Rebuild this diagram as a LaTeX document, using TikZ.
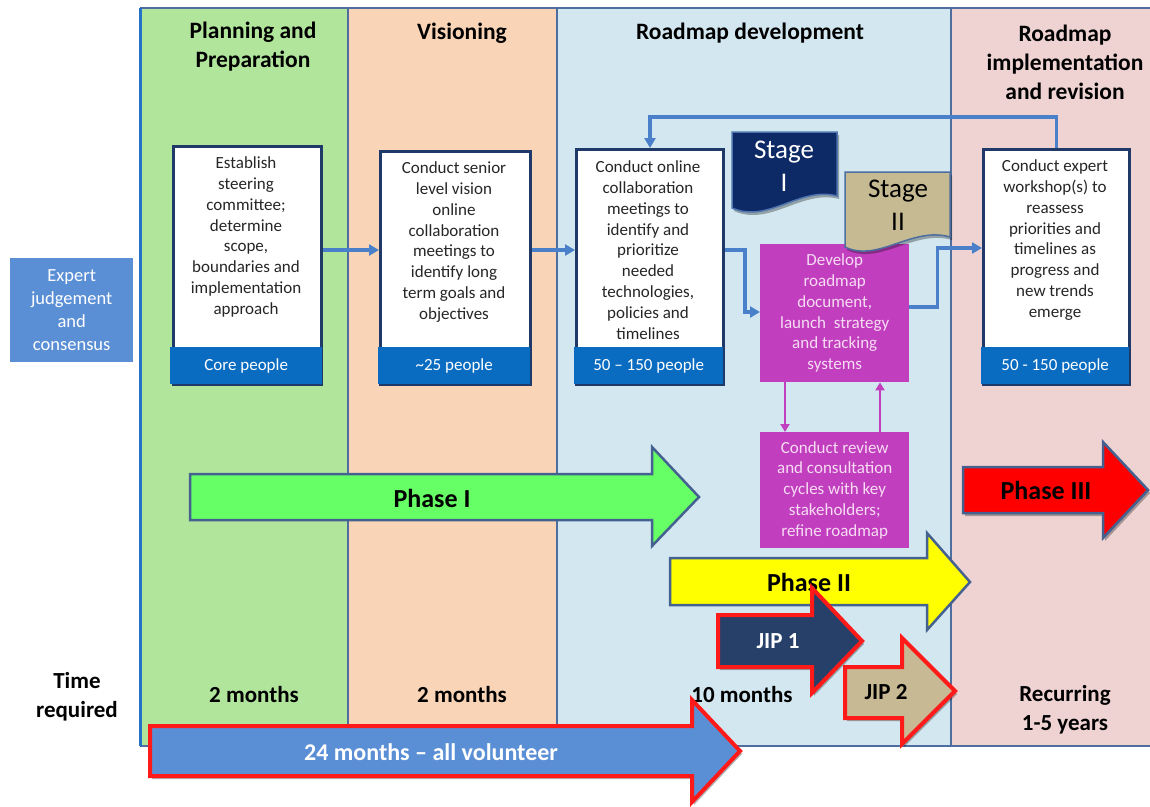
\documentclass[tikz,border=0pt]{standalone}
\usepackage{fontspec}
\setmainfont{Carlito}
\usetikzlibrary{arrows.meta,shadows,calc}

\definecolor{colgreen}{HTML}{B1E59C}
\definecolor{colpeach}{HTML}{F9D4B6}
\definecolor{colblue}{HTML}{D2E7EF}
\definecolor{colpink}{HTML}{EFD3D3}
\definecolor{frameline}{HTML}{4D6E9E}
\definecolor{leftline}{HTML}{2372C5}
\definecolor{boxnavy}{HTML}{1F3A68}
\definecolor{bandblue}{HTML}{0A6CC1}
\definecolor{connblue}{HTML}{4A80C9}
\definecolor{magbox}{HTML}{C13EBF}
\definecolor{magtext}{HTML}{F7DCF3}
\definecolor{expertblue}{HTML}{5B8FD5}
\definecolor{phgreen}{HTML}{66FF66}
\definecolor{phyellow}{HTML}{FFFF00}
\definecolor{phred}{HTML}{FF0000}
\definecolor{phedge}{HTML}{44618F}
\definecolor{jipnavy}{HTML}{26406A}
\definecolor{jiptan}{HTML}{C8B995}
\definecolor{redline}{HTML}{FF1A1A}
\definecolor{stagenavy}{HTML}{0D2A66}
\definecolor{stageedge}{HTML}{4F74B0}
\definecolor{stagetan}{HTML}{C6BA93}
\definecolor{bodytext}{HTML}{262626}

\tikzset{
  hdr/.style={font=\fontsize{23.5}{29}\selectfont\bfseries, align=center, text=black, inner sep=0pt},
  timelbl/.style={font=\fontsize{23}{29}\selectfont\bfseries, align=center, text=black, inner sep=0pt},
  procbox/.style={draw=boxnavy, line width=3pt, fill=white, anchor=north west, inner sep=0pt},
  procband/.style={fill=bandblue, anchor=north west, inner sep=0pt, text=white,
    font=\fontsize{17}{20.8}\selectfont},
  proctext/.style={font=\fontsize{17}{20.8}\selectfont, align=center, text=bodytext, inner sep=0pt},
  magentabox/.style={fill=magbox, anchor=north west, inner sep=0pt},
  magentatext/.style={font=\fontsize{17}{20.8}\selectfont, align=center, text=magtext, inner sep=0pt},
  conn/.style={draw=connblue, line width=3.5pt, -{Triangle[length=10pt,width=11pt]}},
  mconn/.style={draw=magbox, line width=2.5pt, -{Triangle[length=8pt,width=9pt]}},
  phasearrow/.style={draw=phedge, line width=2.5pt, line join=miter},
  jiparrow/.style={draw=redline, line width=4pt, line join=miter},
  phaselbl/.style={font=\fontsize{26}{30}\selectfont\bfseries, text=black, inner sep=0pt},
  jiplbl/.style={font=\fontsize{23}{28}\selectfont\bfseries, inner sep=0pt},
  stagelbl/.style={font=\fontsize{27}{33}\selectfont, align=center, inner sep=0pt},
  softshadow/.style={drop shadow={shadow xshift=2pt, shadow yshift=-3pt, opacity=0.3, fill=black}},
}

\begin{document}
\begin{tikzpicture}[x=1pt,y=-1pt]
\useasboundingbox (0,0) rectangle (1150,806);
\fill[white] (0,0) rectangle (1150,806);

% column backgrounds
\fill[colgreen] (140,8) rectangle (348,746);
\fill[colpeach] (348,8) rectangle (557,746);
\fill[colblue]  (557,8) rectangle (951,746);
\fill[colpink]  (951,8) rectangle (1152,746);

% frame and column dividers
\draw[frameline, line width=2.5pt] (140,8) -- (1152,8);
\draw[frameline, line width=2.5pt] (140,746) -- (1152,746);
\draw[frameline, line width=2.5pt] (348,8) -- (348,746);
\draw[frameline, line width=2.5pt] (557,8) -- (557,746);
\draw[frameline, line width=2.5pt] (951,8) -- (951,746);
\draw[leftline, line width=3pt] (140,8) -- (140,746);

% column headings
\node[hdr] (h1) at (253,47) {Planning and\\Preparation};
\node[hdr] (h2) at (462,33) {Visioning};
\node[hdr] (h3) at (750,33) {Roadmap development};
\node[hdr] (h4) at (1065,62) {Roadmap\\implementation\\and revision};

% side label
\node[fill=expertblue, minimum width=123pt, minimum height=104pt, anchor=north west,
      inner sep=0pt] (expert) at (10,258) {};
\node[font=\fontsize{18.5}{22.8}\selectfont, align=center, text=white, inner sep=0pt]
      (expertt) at (expert.center) {Expert\\judgement\\and\\consensus};

% durations
\node[timelbl] (treq) at (77,697) {Time\\required};
\node[timelbl] (t1) at (254,695) {2 months};
\node[timelbl] (t2) at (462,695) {2 months};
\node[timelbl] (t3) at (742,695) {10 months};
\node[timelbl] (t4) at (1065,710) {Recurring\\1-5 years};

% helper rows for connectors
\coordinate (row) at (0,250);
\coordinate (rowb4) at (0,248);
\coordinate (mrow) at (0,312);
\coordinate (orow) at (0,307);
\coordinate (loop) at (0,117);
\coordinate (dx) at (785,0);
\coordinate (ux) at (880,0);

% process boxes
\node[procbox, minimum width=148pt, minimum height=238pt] (b1) at (172,145) {};
\node[procbox, minimum width=150pt, minimum height=233pt] (b2) at (379,150) {};
\node[procbox, minimum width=147pt, minimum height=235pt] (b3) at (575,148) {};
\node[procbox, minimum width=146pt, minimum height=235pt] (b4) at (982,148) {};

\node[procband, minimum width=152pt, minimum height=37pt] (b1p) at (170,347) {Core people};
\node[procband, minimum width=152pt, minimum height=37pt] (b2p) at (378,347) {\textasciitilde 25 people};
\node[procband, minimum width=149pt, minimum height=37pt] (b3p) at (574,347) {50 – 150 people};
\node[procband, minimum width=148pt, minimum height=37pt] (b4p) at (981,347) {50 - 150 people};

\node[proctext] (b1t) at (246,237) {Establish\\steering\\committee;\\determine\\scope,\\boundaries and\\implementation\\approach};
\node[proctext] (b2t) at (454,242) {Conduct senior\\level vision\\online\\collaboration\\meetings to\\identify long\\term goals and\\objectives};
\node[proctext] (b3t) at (648,250) {Conduct online\\collaboration\\meetings to\\identify and\\prioritize\\needed\\technologies,\\policies and\\timelines};
\node[proctext] (b4t) at (1055,240) {Conduct expert\\workshop(s) to\\reassess\\priorities and\\timelines as\\progress and\\new trends\\emerge};

% magenta boxes
\node[magentabox, minimum width=149pt, minimum height=138pt] (m1) at (760,244) {};
\node[magentabox, minimum width=149pt, minimum height=116pt] (m2) at (760,432) {};
\node[magentatext] (m1t) at (m1.center) {Develop\\roadmap\\document,\\launch\ \ strategy\\and tracking\\systems};
\node[magentatext] (m2t) at (m2.center) {Conduct review\\and consultation\\cycles with key\\stakeholders;\\refine roadmap};

% connectors
\draw[conn] (b1.east |- row) -- (b2.west |- row);
\draw[conn] (b2.east |- row) -- (b3.west |- row);
\draw[conn] (b3.east |- row) -- ++(20,0) |- (m1.west |- mrow);
\draw[conn] (m1.east |- orow) -- ++(28,0) |- (b4.west |- rowb4);
\draw[conn] (b4.north) -- (b4.north |- loop) -- (b3.north |- loop) -- (b3.north);
\draw[mconn] (m1.south -| dx) -- (m2.north -| dx);
\draw[mconn] (m2.north -| ux) -- (m1.south -| ux);

% stage banners
\path[fill=stagenavy, draw=stageedge, line width=1.5pt, softshadow]
  (732,132) -- (837,132) -- (837,196) .. controls (800,186) and (768,224) .. (732,208) -- cycle;
\node[stagelbl, text=white] (st1) at (784,166) {Stage\\I};
\path[fill=stagetan, draw=frameline, line width=1.5pt, softshadow]
  (845,172) -- (950,172) -- (950,237) .. controls (912,226) and (878,263) .. (845,247) -- cycle;
\node[stagelbl, text=black] (st2) at (898,205) {Stage\\II};

% phase arrows
\path[phasearrow, fill=phgreen]
  (190,474) -- (652,474) -- (652,447) -- (699,497) -- (652,546) -- (652,520) -- (190,520) -- cycle;
\node[phaselbl] (ph1) at (432,498) {Phase I};
\path[phasearrow, fill=phyellow]
  (670,558) -- (927,558) -- (927,533) -- (970,582) -- (927,630) -- (927,605) -- (670,605) -- cycle;
\node[phaselbl] (ph2) at (809,582) {Phase II};
\path[phasearrow, fill=phred, softshadow]
  (963,467) -- (1103,467) -- (1103,442) -- (1148,490) -- (1103,538) -- (1103,513) -- (963,513) -- cycle;
\node[phaselbl] (ph3) at (1046,490) {Phase III};

% joint industry projects
\path[jiparrow, fill=jipnavy, softshadow]
  (718,615) -- (812,615) -- (812,588) -- (862,641) -- (812,693) -- (812,667) -- (718,667) -- cycle;
\node[jiplbl, text=white] (jip1) at (778,641) {JIP 1};
\path[jiparrow, fill=jiptan, softshadow]
  (845,667) -- (902,667) -- (902,638) -- (955,691) -- (902,744) -- (902,718) -- (845,718) -- cycle;
\node[jiplbl, text=black] (jip2) at (886,692) {JIP 2};

% overall volunteer effort
\path[jiparrow, fill=expertblue, softshadow]
  (150,726) -- (692,726) -- (692,700) -- (740,751) -- (692,802) -- (692,776) -- (150,776) -- cycle;
\node[jiplbl, text=white, font=\fontsize{24}{28}\selectfont\bfseries] (vol) at (431,752) {24 months – all volunteer};

\end{tikzpicture}
\end{document}
